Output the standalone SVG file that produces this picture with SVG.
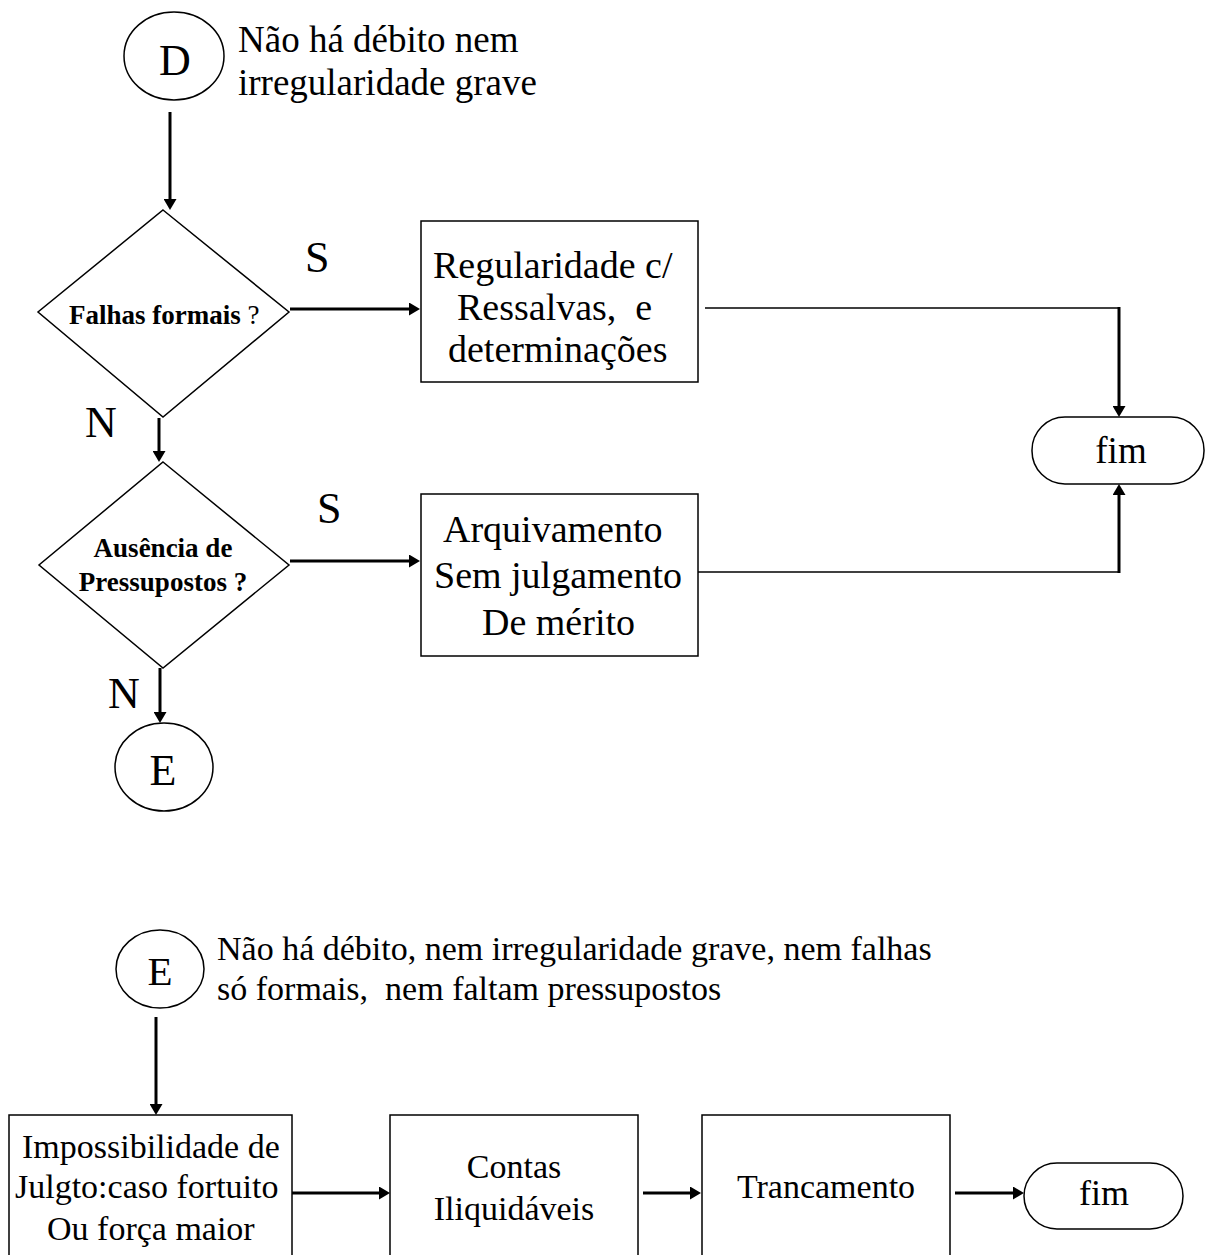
<svg xmlns="http://www.w3.org/2000/svg" width="1205" height="1255" viewBox="0 0 1205 1255">
<style>
text{font-family:"Liberation Serif","Times New Roman",serif;fill:#000;white-space:pre}
.shape{fill:#fff;stroke:#000;stroke-width:1.5}
.thin{fill:none;stroke:#000;stroke-width:1.5}
.arr{fill:none;stroke:#000;stroke-width:3}
.big{font-size:44px}
.t37{font-size:37px}
.t38{font-size:38px}
.t34{font-size:34px}
.b27{font-size:27px;font-weight:bold}
.mid{text-anchor:middle}
</style>
<defs>
<marker id="ah" viewBox="0 0 11 13" refX="5" refY="6.5" markerWidth="11" markerHeight="13" markerUnits="userSpaceOnUse" orient="auto">
<path d="M0,0 L11,6.5 L0,13 z" fill="#000"/>
</marker>
</defs>
<rect width="1205" height="1255" fill="#fff"/>
<g id="connectors">
<line class="arr" x1="170" y1="112" x2="170" y2="204" marker-end="url(#ah)"/>
<line class="arr" x1="290" y1="309" x2="414" y2="309" marker-end="url(#ah)"/>
<line class="thin" x1="705" y1="308" x2="1119" y2="308"/>
<line class="arr" x1="1119" y1="307" x2="1119" y2="411" marker-end="url(#ah)"/>
<line class="arr" x1="159" y1="418" x2="159" y2="456" marker-end="url(#ah)"/>
<line class="arr" x1="290" y1="561" x2="414" y2="561" marker-end="url(#ah)"/>
<line class="thin" x1="693" y1="572" x2="1119" y2="572"/>
<line class="arr" x1="1119" y1="573" x2="1119" y2="490" marker-end="url(#ah)"/>
<line class="arr" x1="160" y1="668" x2="160" y2="717" marker-end="url(#ah)"/>
<line class="arr" x1="156" y1="1017" x2="156" y2="1109" marker-end="url(#ah)"/>
<line class="arr" x1="292" y1="1193" x2="384" y2="1193" marker-end="url(#ah)"/>
<line class="arr" x1="643" y1="1193" x2="695" y2="1193" marker-end="url(#ah)"/>
<line class="arr" x1="955" y1="1193" x2="1018" y2="1193" marker-end="url(#ah)"/>
</g>
<g id="nodeD">
<ellipse class="shape" cx="174" cy="56" rx="50" ry="44"/>
<text class="big mid" x="175" y="75">D</text>
</g>
<g id="noteD">
<text class="t37" x="238" y="52">Não há débito nem</text>
<text class="t37" x="238" y="95">irregularidade grave</text>
</g>
<g id="decision1">
<polygon class="shape" points="163,210 289,312 163,417 38,312"/>
<text x="69" y="324" style="font-size:27px"><tspan font-weight="bold">Falhas formais</tspan> ?</text>
</g>
<g id="labelS1"><text class="big" x="305" y="272">S</text></g>
<g id="labelN1"><text class="big" x="85" y="437">N</text></g>
<g id="box1">
<rect class="shape" x="421" y="221" width="277" height="161"/>
<text class="t38" x="433" y="278">Regularidade c/</text>
<text class="t38" x="457" y="320">Ressalvas,  e</text>
<text class="t38" x="448" y="362">determinações</text>
</g>
<g id="fim1">
<rect class="shape" x="1032" y="417" width="172" height="67" rx="33" ry="33"/>
<text class="t37 mid" x="1121" y="463">fim</text>
</g>
<g id="decision2">
<polygon class="shape" points="163,462 289,565 163,668 39,565"/>
<text class="b27 mid" x="163" y="557">Ausência de</text>
<text class="b27 mid" x="163" y="591">Pressupostos ?</text>
</g>
<g id="labelS2"><text class="big" x="317" y="523">S</text></g>
<g id="labelN2"><text class="big" x="108" y="708">N</text></g>
<g id="box2">
<rect class="shape" x="421" y="494" width="277" height="162"/>
<text class="t38" x="443" y="542">Arquivamento</text>
<text class="t38" x="434" y="588">Sem julgamento</text>
<text class="t38" x="482" y="635">De mérito</text>
</g>
<g id="nodeE1">
<ellipse class="shape" cx="164" cy="767" rx="49" ry="44"/>
<text class="big mid" x="163" y="785">E</text>
</g>
<g id="nodeE2">
<ellipse class="shape" cx="160" cy="969" rx="44" ry="39"/>
<text class="mid" x="160" y="985" style="font-size:41px">E</text>
</g>
<g id="noteE">
<text class="t34" x="217" y="960">Não há débito, nem irregularidade grave, nem falhas</text>
<text class="t34" x="217" y="1000">só formais,  nem faltam pressupostos</text>
</g>
<g id="boxA">
<rect class="shape" x="9" y="1115" width="283" height="150"/>
<text class="t34" x="22" y="1158">Impossibilidade de</text>
<text class="t34" x="15" y="1198">Julgto:caso fortuito</text>
<text class="t34" x="47" y="1240">Ou força maior</text>
</g>
<g id="boxB">
<rect class="shape" x="390" y="1115" width="248" height="150"/>
<text class="t34 mid" x="514" y="1178">Contas</text>
<text class="t34 mid" x="514" y="1220">Iliquidáveis</text>
</g>
<g id="boxC">
<rect class="shape" x="702" y="1115" width="248" height="150"/>
<text class="t34 mid" x="826" y="1198">Trancamento</text>
</g>
<g id="fim2">
<rect class="shape" x="1024" y="1163" width="159" height="66" rx="33" ry="33"/>
<text class="mid" x="1104" y="1205" style="font-size:36px">fim</text>
</g>
</svg>
